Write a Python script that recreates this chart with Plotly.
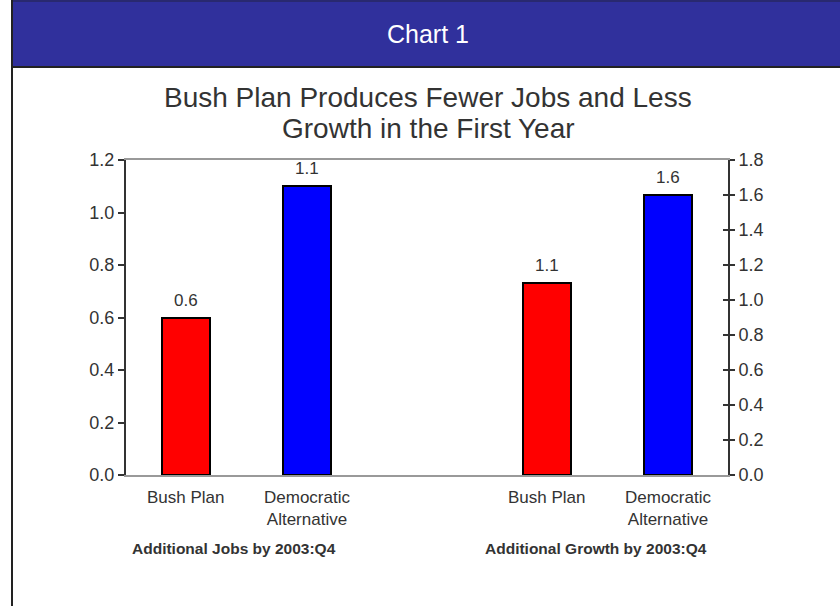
import plotly.graph_objects as go

# ---- data ----
header_text = "Chart 1"
title_lines = ["Bush Plan Produces Fewer Jobs and Less", "Growth in the First Year"]
groups = ["Additional Jobs by 2003:Q4", "Additional Growth by 2003:Q4"]
categories = ["Bush Plan", "Democratic<br>Alternative"]
jobs = [0.6, 1.1]        # left axis
growth = [1.1, 1.6]      # right axis
bar_colors = ["#ff0000", "#0000ff"]
left_ticks = [0.0, 0.2, 0.4, 0.6, 0.8, 1.0, 1.2]
right_ticks = [0.0, 0.2, 0.4, 0.6, 0.8, 1.0, 1.2, 1.4, 1.6, 1.8]

W, H = 840, 606
PX0, PX1 = 126, 728   # plot area x pixels
PY0, PY1 = 160, 475   # plot area y pixels (top, bottom)

def fx(px):
    return px / W

def fy(py):
    return 1 - py / H

n_cat = len(categories)
slot = n_cat + 1
pos = [[g * slot + i + 0.5 for i in range(n_cat)] for g in range(len(groups))]
x_max = len(groups) * slot - 1

FONT = "Liberation Sans, Arial, sans-serif"
TXT = "#333333"
series = [jobs, growth]
yaxes = ["y", "y2"]

fig = go.Figure()
for g in range(len(groups)):
    fig.add_trace(go.Bar(
        x=pos[g], y=series[g], yaxis=yaxes[g], width=0.4,
        marker=dict(color=bar_colors, line=dict(color="black", width=2)),
        showlegend=False, hoverinfo="y",
    ))
fig.add_trace(go.Scatter(x=pos[1], y=growth, yaxis="y3", mode="markers",
                         marker=dict(opacity=0), hoverinfo="skip", showlegend=False))

annotations = []
for g in range(len(groups)):
    for i, v in enumerate(series[g]):
        annotations.append(dict(
            x=pos[g][i], xref="x", y=v, yref=yaxes[g], yanchor="bottom", yshift=6,
            text=f"{v:.1f}", showarrow=False, font=dict(size=17, color=TXT, family=FONT),
        ))
    for i, c in enumerate(categories):
        annotations.append(dict(
            x=pos[g][i], xref="x", y=fy(486), yref="paper", yanchor="top",
            text=c, showarrow=False, font=dict(size=17, color=TXT, family=FONT),
        ))
    annotations.append(dict(
        x=(pos[g][0] + pos[g][-1]) / 2 - 0.1, xref="x", y=fy(548), yref="paper",
        yanchor="middle", text="<b>" + groups[g] + "</b>", showarrow=False,
        font=dict(size=15.5, color=TXT, family=FONT),
    ))
for k, line in enumerate(title_lines):
    annotations.append(dict(
        x=fx(428), xref="paper", y=fy(97 + 31 * k), yref="paper", yanchor="middle",
        text=line, showarrow=False, font=dict(size=28, color=TXT, family=FONT),
    ))
annotations.append(dict(
    x=fx(428), xref="paper", y=fy(34), yref="paper", yanchor="middle",
    text=header_text, showarrow=False,
    font=dict(size=25, color="white", family=FONT),
))

shapes = [
    dict(type="rect", xref="paper", yref="paper", x0=fx(11), x1=1, y0=fy(66), y1=1,
         fillcolor="#30309c", line=dict(width=0), layer="below"),
    dict(type="line", xref="paper", yref="paper", x0=fx(11), x1=1, y0=fy(1), y1=fy(1),
         line=dict(color="#222244", width=1)),
    dict(type="line", xref="paper", yref="paper", x0=fx(11), x1=1, y0=fy(67), y1=fy(67),
         line=dict(color="#222222", width=2)),
    dict(type="line", xref="paper", yref="paper", x0=fx(12), x1=fx(12), y0=0, y1=1,
         line=dict(color="#222222", width=2)),
]

fig.update_layout(
    width=W, height=H, margin=dict(l=0, r=0, t=0, b=0, pad=0, autoexpand=False),
    paper_bgcolor="white", plot_bgcolor="white",
    barmode="overlay", bargap=0,
    font=dict(family=FONT, color=TXT),
    xaxis=dict(domain=[fx(PX0), fx(PX1)], range=[0, x_max], showgrid=False, zeroline=False,
               showticklabels=False, ticks="", showline=True, linecolor="#999999",
               linewidth=2, mirror=True, fixedrange=True, automargin=False),
    yaxis=dict(domain=[fy(PY1), fy(PY0)], range=[0, 1.2], tickvals=left_ticks,
               tickformat=".1f", showgrid=False, zeroline=False, showline=True,
               linecolor="#333333", linewidth=2, ticks="outside", ticklen=6,
               tickcolor="#333333", tickwidth=2, automargin=False,
               tickfont=dict(size=18, color=TXT, family=FONT)),
    yaxis2=dict(domain=[fy(PY1), fy(PY0)], range=[0, 1.8], tickvals=right_ticks,
                tickformat=".1f", overlaying="y", side="right", anchor="x",
                showgrid=False, zeroline=False, showline=True,
                linecolor="#333333", linewidth=2, ticks="outside", ticklen=5,
                tickcolor="#333333", tickwidth=2, automargin=False,
                tickfont=dict(size=18, color=TXT, family=FONT)),
    yaxis3=dict(range=[0, 1.8], tickvals=right_ticks, overlaying="y", side="right",
                anchor="x", showgrid=False, zeroline=False, showline=False,
                ticks="inside", ticklen=5, tickcolor="#333333", tickwidth=2,
                showticklabels=False, automargin=False),
    annotations=annotations,
    shapes=shapes,
)

fig.write_html(
    "out.html",
    config={"displayModeBar": False},
    post_script=(
        "document.documentElement.style.margin='0';"
        "document.documentElement.style.padding='0';"
        "document.body.style.margin='0';document.body.style.padding='0';"
        "document.body.style.overflow='hidden';"
    ),
)
